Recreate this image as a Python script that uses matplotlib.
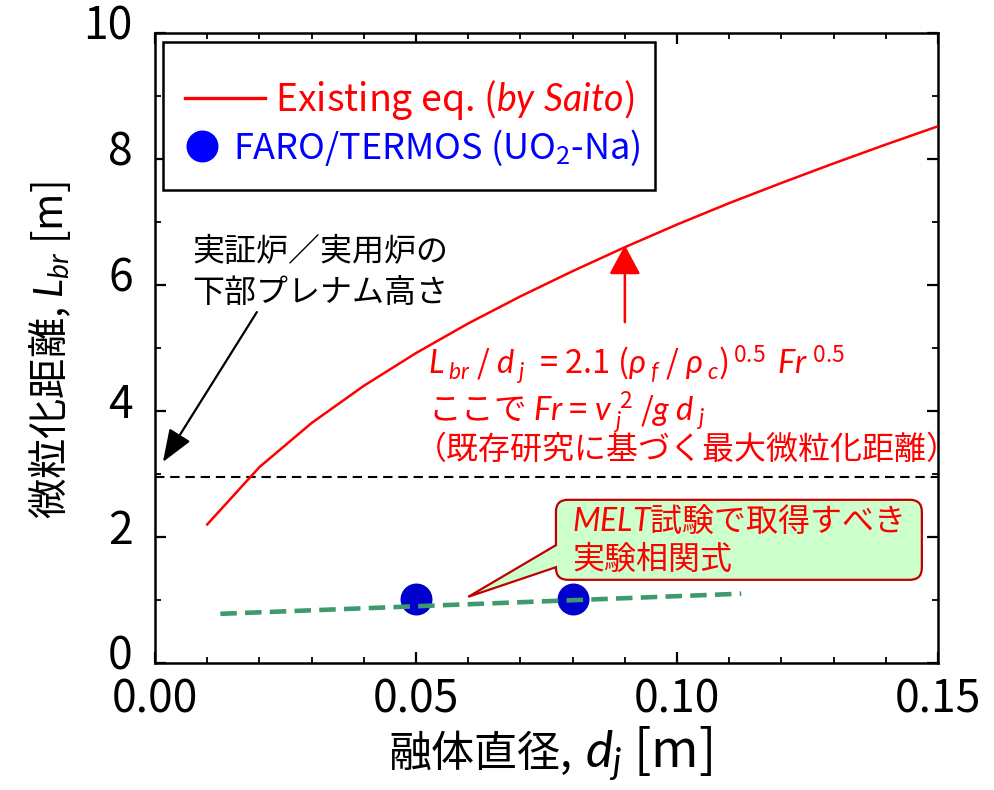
import matplotlib
matplotlib.use('Agg')
import matplotlib.pyplot as plt
import matplotlib.transforms as mtransforms
from matplotlib.path import Path
from matplotlib.patches import PathPatch, Rectangle, FancyArrowPatch
from matplotlib.ticker import MultipleLocator, FixedLocator, FixedFormatter

# ---------------- data ----------------
dj_saito = [0.01, 0.02, 0.03, 0.04, 0.05, 0.06, 0.07, 0.08, 0.09, 0.10,
            0.11, 0.12, 0.13, 0.14, 0.15]
lbr_saito = [2.20, 3.11, 3.81, 4.40, 4.92, 5.39, 5.82, 6.22, 6.60, 6.96,
             7.30, 7.62, 7.93, 8.23, 8.52]
dj_exp = [0.05, 0.08]
lbr_exp = [1.02, 1.02]
dj_melt = [0.0125, 0.1123]
lbr_melt = [0.78, 1.10]
plenum_height = 2.95
x_ticks = [0.00, 0.05, 0.10, 0.15]
x_ticklabels = ['0.00', '0.05', '0.10', '0.15']
y_ticks = [0, 2, 4, 6, 8, 10]
y_ticklabels = ['0', '2', '4', '6', '8', '10']

# ---------------- style ----------------
plt.rcParams['font.family'] = ['Noto Sans CJK JP', 'DejaVu Sans']
plt.rcParams['mathtext.fontset'] = 'custom'
plt.rcParams['mathtext.rm'] = 'Noto Sans CJK JP'
plt.rcParams['mathtext.it'] = 'Lato:italic'
plt.rcParams['mathtext.bf'] = 'Noto Sans CJK JP:bold'
plt.rcParams['mathtext.sf'] = 'Noto Sans CJK JP'

fig = plt.figure(figsize=(9.94, 7.90), dpi=100)
ax = fig.add_axes([0.156, 0.1608, 0.7877, 0.7974])

ax.set_xlim(0, 0.15)
ax.set_ylim(0, 10)

# lines / points
line_h, = ax.plot(dj_saito, lbr_saito, color='#ff0000', lw=1.8, zorder=3)
pts_h, = ax.plot(dj_exp, lbr_exp, 'o', ms=22, color='#0000cc', ls='none', zorder=3)
ax.plot(dj_melt, lbr_melt, color='#3d9a6c', lw=3.3, dashes=(3.6, 1.8), zorder=4)
ax.axhline(plenum_height, color='black', lw=1.5, dashes=(4.5, 2.8), zorder=2)

# ticks
ax.xaxis.set_major_locator(FixedLocator(x_ticks))
ax.xaxis.set_major_formatter(FixedFormatter(x_ticklabels))
ax.xaxis.set_minor_locator(MultipleLocator(0.01))
ax.yaxis.set_major_locator(FixedLocator(y_ticks))
ax.yaxis.set_major_formatter(FixedFormatter(y_ticklabels))
ax.yaxis.set_minor_locator(MultipleLocator(1))
ax.tick_params(which='both', direction='in', top=True, right=True)
ax.tick_params(which='major', length=8, width=1.6, labelsize=32)
ax.tick_params(which='minor', length=4, width=1.3)
ax.tick_params(axis='y', which='major', pad=16)
ax.tick_params(axis='x', which='major', pad=10)
for s in ax.spines.values():
    s.set_linewidth(1.8)
shift_up = mtransforms.ScaledTranslation(0, 8 / 72, fig.dpi_scale_trans)
for lab in ax.get_yticklabels():
    lab.set_transform(lab.get_transform() + shift_up)

ax.set_ylabel(r"微粒化距離, $L_{br}$ [m]", fontsize=29)
ax.yaxis.set_label_coords(-0.105, 0.497)

# x label: CJK part and latin part
fig.text(0.5755, 0.0290, "融体直径,", fontsize=31, ha='right', va='baseline')
fig.text(0.5885, 0.0290, r"$d_j$ [m]", fontsize=37, ha='left', va='baseline')

# legend frame
ax.add_patch(Rectangle((0.0102, 0.7508), 0.6284, 0.2349, transform=ax.transAxes,
                       facecolor='white', edgecolor='black', lw=1.8, zorder=6))
fs_leg = 27
pxl = fs_leg * 100 / 72
leg1 = ax.legend([line_h], [r"Existing eq. ($\it{by\ Saito}$)"], loc='center left',
                 bbox_to_anchor=(0.0383, 0.8937), bbox_transform=ax.transAxes,
                 frameon=False, borderpad=0, borderaxespad=0,
                 handlelength=80 / pxl, handletextpad=10 / pxl, fontsize=fs_leg)
for t in leg1.get_texts():
    t.set_color('#ff0000')
for h in leg1.legend_handles:
    h.set_linewidth(2.4)
leg1.set_zorder(7)
ax.add_artist(leg1)
fs_leg2 = 26
pxl2 = fs_leg2 * 100 / 72
leg2 = ax.legend([pts_h], [r"FARO/TERMOS (UO$_2$-Na)"], loc='center left',
                 bbox_to_anchor=(0.0421, 0.8175), bbox_transform=ax.transAxes,
                 frameon=False, borderpad=0, borderaxespad=0,
                 handlelength=28 / pxl2, handletextpad=17 / pxl2, fontsize=fs_leg2)
for t in leg2.get_texts():
    t.set_color('#0000ff')
for h in leg2.legend_handles:
    h.set_color('#0000ff')
leg2.set_zorder(7)

# black annotation
ax.text(0.0071, 6.52, "実証炉／実用炉の", fontsize=23, va='center', ha='left', color='black')
ax.text(0.0071, 5.88, "下部プレナム高さ", fontsize=23, va='center', ha='left', color='black')
ax.add_patch(FancyArrowPatch((0.0195, 5.57), (0.0015, 3.19),
                             arrowstyle='-|>,head_length=20,head_width=7.6',
                             mutation_scale=1, lw=1.6, color='black',
                             shrinkA=0, shrinkB=0, zorder=5))

# red arrow + formula
ax.add_patch(FancyArrowPatch((0.09, 5.41), (0.09, 6.63),
                             arrowstyle='-|>,head_length=18,head_width=9.7',
                             mutation_scale=1, lw=1.8, color='#ff0000',
                             shrinkA=0, shrinkB=0, zorder=5))
ax.text(0.0523, 4.57,
        r"$L_{\;br}\;/\;d_{\;j}$  = 2.1 ($\rho_{\;f}\;/\;\rho_{\;c}$)$^{\,0.5}$ $\,Fr^{\;0.5}$",
        fontsize=23.5, color='#ff0000', ha='left', va='baseline')
ax.text(0.0523, 3.86, r"ここで $Fr$ = $v_{\;j}^{\;\,2}\;/g\;d_{\;j}$",
        fontsize=23.5, color='#ff0000', ha='left', va='baseline')
ax.text(0.0497, 3.24, "（既存研究に基づく最大微粒化距離）",
        fontsize=23, color='#ff0000', ha='left', va='baseline')

# callout bubble
x0, x1, y0, y1 = 0.0768, 0.1469, 1.32, 2.59
rx, ry = 0.0023, 0.19
yb1, yb2 = 1.87, 1.52
apx, apy = 0.0600, 1.05
verts = [(x0 + rx, y0), (x1 - rx, y0), (x1, y0), (x1, y0 + ry),
         (x1, y1 - ry), (x1, y1), (x1 - rx, y1), (x0 + rx, y1),
         (x0, y1), (x0, y1 - ry), (x0, yb1), (apx, apy), (x0, yb2),
         (x0, y0 + ry), (x0, y0), (x0 + rx, y0), (x0 + rx, y0)]
codes = [Path.MOVETO, Path.LINETO, Path.CURVE3, Path.CURVE3,
         Path.LINETO, Path.CURVE3, Path.CURVE3, Path.LINETO,
         Path.CURVE3, Path.CURVE3, Path.LINETO, Path.LINETO, Path.LINETO,
         Path.LINETO, Path.CURVE3, Path.CURVE3, Path.CLOSEPOLY]
ax.add_patch(PathPatch(Path(verts, codes), facecolor='#ccffcc', edgecolor='#c00000',
                       lw=1.6, zorder=5))
ax.text(0.0799, 2.25, r"$MELT$試験で取得すべき", fontsize=23, color='#ff0000',
        ha='left', va='center', zorder=6)
ax.text(0.0799, 1.63, "実験相関式", fontsize=23, color='#ff0000',
        ha='left', va='center', zorder=6)

fig.savefig('out.png', dpi=100)
